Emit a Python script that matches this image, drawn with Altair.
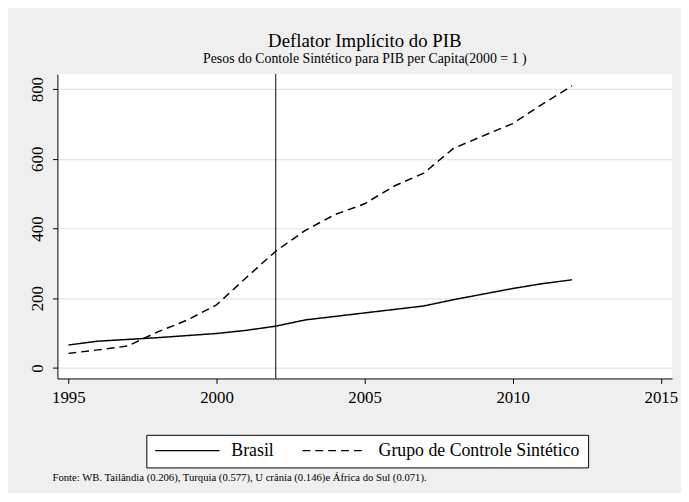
import altair as alt
import pandas as pd

years = list(range(1995, 2013))
brasil = [66, 77, 82, 87, 93, 99, 108, 120, 138, 148, 158, 168, 178, 196, 212, 228, 242, 253]
sintetico = [42, 52, 63, 103, 137, 181, 259, 335, 395, 440, 471, 522, 559, 630, 666, 701, 757, 809]
series_names = ["Brasil", "Grupo de Controle Sintético"]
intervention_year = [2002]
x_ticks = [1995, 2000, 2005, 2010, 2015]
y_ticks = [0, 200, 400, 600, 800]
title_text = "Deflator Implícito do PIB"
subtitle_text = "Pesos do Contole Sintético para PIB per Capita(2000 = 1 )"
footer_text = ["Fonte: WB. Tailândia (0.206),  Turquia (0.577), U crânia (0.146)e  África do Sul (0.071)."]

FONT = "Liberation Serif"

df = pd.DataFrame({
    "ano": years * 2,
    "valor": brasil + sintetico,
    "serie": [series_names[0]] * len(years) + [series_names[1]] * len(years),
})

xscale = alt.Scale(domain=[1994.63, 2015.38], nice=False, zero=False)
yscale = alt.Scale(domain=[-30, 843], nice=False, zero=False)

lines = alt.Chart(df).mark_line(strokeWidth=1.5).encode(
    x=alt.X("ano:Q", scale=xscale,
            axis=alt.Axis(values=x_ticks, format="d", title=None, grid=False,
                          labelPadding=6)),
    y=alt.Y("valor:Q", scale=yscale,
            axis=alt.Axis(values=y_ticks, title=None, grid=True, gridColor="#e4e4e4",
                          gridWidth=1.2, labelAngle=270, labelPadding=6,
                          labelAlign="center", labelBaseline="bottom")),
    color=alt.Color("serie:N", scale=alt.Scale(domain=series_names, range=["black", "black"]),
                    title=None),
    strokeDash=alt.StrokeDash("serie:N",
                              scale=alt.Scale(domain=series_names, range=[[1, 0], [8, 5]]),
                              title=None),
)

rule_df = pd.DataFrame({"ano": intervention_year})
vline = alt.Chart(rule_df).mark_rule(color="black", strokeWidth=1).encode(
    x=alt.X("ano:Q", scale=xscale)
)

foot_df = pd.DataFrame({"t": footer_text})
footer = alt.Chart(foot_df).mark_text(
    align="left", baseline="alphabetic", font=FONT, fontSize=10.8, color="black"
).encode(x=alt.value(-5), y=alt.value(412), text="t:N")

chart = alt.layer(lines, vline, footer).properties(
    width=622,
    height=308,
    title=alt.TitleParams(
        text=title_text, subtitle=subtitle_text, font=FONT, subtitleFont=FONT,
        fontSize=19, subtitleFontSize=14, fontWeight="normal", color="black",
        subtitleColor="black", anchor="middle", offset=8, subtitlePadding=1,
    ),
    autosize=alt.AutoSizeParams(type="none"),
    padding={"left": 50, "top": 64, "right": 9, "bottom": 113},
    background="#efefef",
).configure(
    font=FONT
).configure_axis(
    labelFont=FONT, labelFontSize=17, labelColor="black",
    domainColor="black", tickColor="black", tickSize=5,
).configure_text(
    font=FONT
).configure_view(
    strokeWidth=0, fill="white"
).configure_legend(
    orient="none", legendX=90, legendY=365, direction="horizontal",
    symbolType="stroke", symbolSize=4225, symbolStrokeWidth=1.5, clipHeight=16,
    labelFont=FONT, labelFontSize=18, labelColor="black", labelOffset=11,
    labelLimit=500, columnPadding=28, padding=8, strokeColor="black",
    fillColor="white", symbolStrokeColor="black",
)

chart.save("out.html", embed_options={"renderer": "svg", "actions": False})
